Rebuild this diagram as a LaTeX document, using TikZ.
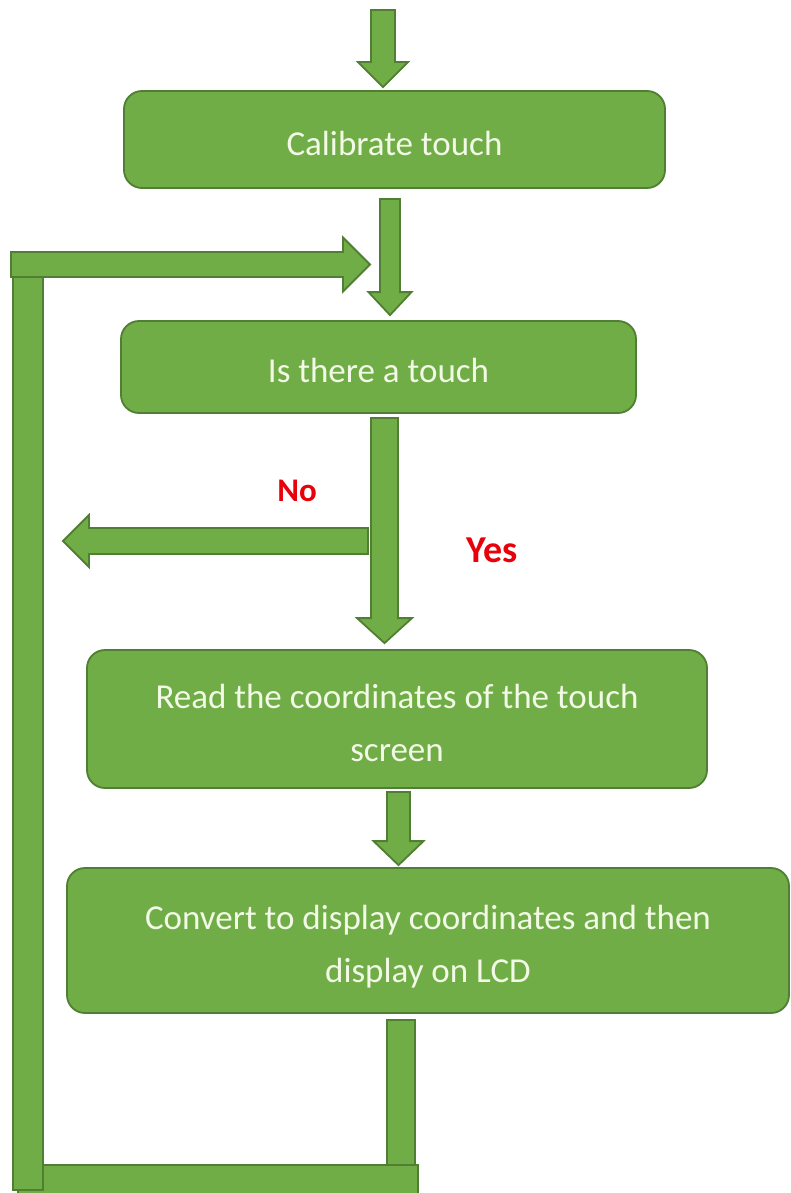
\documentclass[tikz,border=0pt]{standalone}
\usepackage{fontspec}
\setmainfont{Carlito}
\usetikzlibrary{calc}
\definecolor{gfill}{RGB}{112,173,71}
\definecolor{gline}{RGB}{80,126,50}
\definecolor{lblred}{RGB}{232,0,10}
\definecolor{btext}{RGB}{242,249,230}
\tikzset{
  blk/.style={fill=gfill, draw=gline, line width=1.8pt, line join=miter},
  box/.style={blk, rounded corners=18pt, text=btext, align=center, inner sep=0pt,
    font=\fontsize{35}{53}\selectfont},
  lbl/.style={text=lblred, inner sep=0pt}
}
% box text, lowered slightly as in the reference (box size unchanged)
\newcommand\BoxText[1]{\raisebox{-5pt}[\height][\depth]{\begin{tabular}{@{}c@{}}#1\end{tabular}}}
% vertical block arrow: start, tip reference, half shaft, half head, head length
\newcommand\DownArr[5]{%
  \draw[blk] let \p1=(#1), \p2=(#2) in
    (\x1-#3pt,\y1) -- (\x1+#3pt,\y1) -- (\x1+#3pt,\y2+#5pt) -- (\x1+#4pt,\y2+#5pt)
    -- (\x1,\y2) -- (\x1-#4pt,\y2+#5pt) -- (\x1-#3pt,\y2+#5pt) -- cycle;}
% leftward block arrow: start (right end), tip, half shaft, half head, head length
\newcommand\LeftArr[5]{%
  \draw[blk] let \p1=(#1), \p2=(#2) in
    (\x1,\y1+#3pt) -- (\x1,\y1-#3pt) -- (\x2+#5pt,\y1-#3pt) -- (\x2+#5pt,\y1-#4pt)
    -- (\x2,\y1) -- (\x2+#5pt,\y1+#4pt) -- (\x2+#5pt,\y1+#3pt) -- cycle;}
% rightward block arrow: start (left end), tip, half shaft, half head, head length
\newcommand\RightArr[5]{%
  \draw[blk] let \p1=(#1), \p2=(#2) in
    (\x1,\y1+#3pt) -- (\x2-#5pt,\y1+#3pt) -- (\x2-#5pt,\y1+#4pt) -- (\x2,\y1)
    -- (\x2-#5pt,\y1-#4pt) -- (\x2-#5pt,\y1-#3pt) -- (\x1,\y1-#3pt) -- cycle;}
\begin{document}
\begin{tikzpicture}[x=1pt,y=-1pt]
  \fill[white] (0,0) rectangle (790,1193);
  \useasboundingbox (0,0) rectangle (790,1193);

  % boxes
  \node[box, minimum width=541pt, minimum height=97pt] (b1) at (394.5,139.5)
    {\BoxText{Calibrate touch}};
  \node[box, minimum width=515pt, minimum height=92pt] (b2) at (378.5,367)
    {\BoxText{Is there a touch}};
  \node[box, minimum width=620pt, minimum height=138pt] (b3) at (397,719)
    {\BoxText{Read the coordinates of the touch\\screen}};
  \node[box, minimum width=722pt, minimum height=145pt] (b4) at (428,940.5)
    {\BoxText{Convert to display coordinates and then\\display on LCD}};

  % labels
  \node[lbl, font=\bfseries\fontsize{33}{33}\selectfont] (no) at (297,491) {No};
  \node[lbl, font=\bfseries\fontsize{38}{38}\selectfont] (yes) at (492,550) {Yes};

  % loop bars (drawn first so arrows sit on top)
  \coordinate (r4) at ($(b4.south)+(-27,6)$);
  \draw[blk] (18,1165) rectangle (418,1196);
  \draw[blk] (13,270) rectangle (43,1190);
  \draw[blk] let \p1=(r4) in (\x1-14pt,\y1) rectangle (\x1+14pt,-1165pt);

  % entry arrow
  \coordinate (in) at (383,10);
  \coordinate (t1) at ($(b1.north)+(0,-3)$);
  \DownArr{in}{t1}{12}{25}{25}

  % calibrate -> is there a touch
  \coordinate (s2) at (390,199);
  \coordinate (t2) at ($(b2.north)+(0,-5)$);
  \DownArr{s2}{t2}{10}{21.5}{23}

  % return arrow from the loop
  \coordinate (rs) at (11,264.5);
  \coordinate (rt) at (370,264.5);
  \RightArr{rs}{rt}{12.5}{27}{27}

  % yes arrow
  \coordinate (s3) at (384.5,418);
  \coordinate (t3) at ($(b3.north)+(0,-6)$);
  \DownArr{s3}{t3}{13.5}{27.5}{25}

  % no arrow
  \coordinate (ns) at (368,541);
  \coordinate (nt) at (63,541);
  \LeftArr{ns}{nt}{13}{26}{26}

  % read -> convert
  \coordinate (s4) at (398.5,792);
  \coordinate (t4) at ($(b4.north)+(0,-2)$);
  \DownArr{s4}{t4}{11.5}{25}{24}
\end{tikzpicture}
\end{document}
